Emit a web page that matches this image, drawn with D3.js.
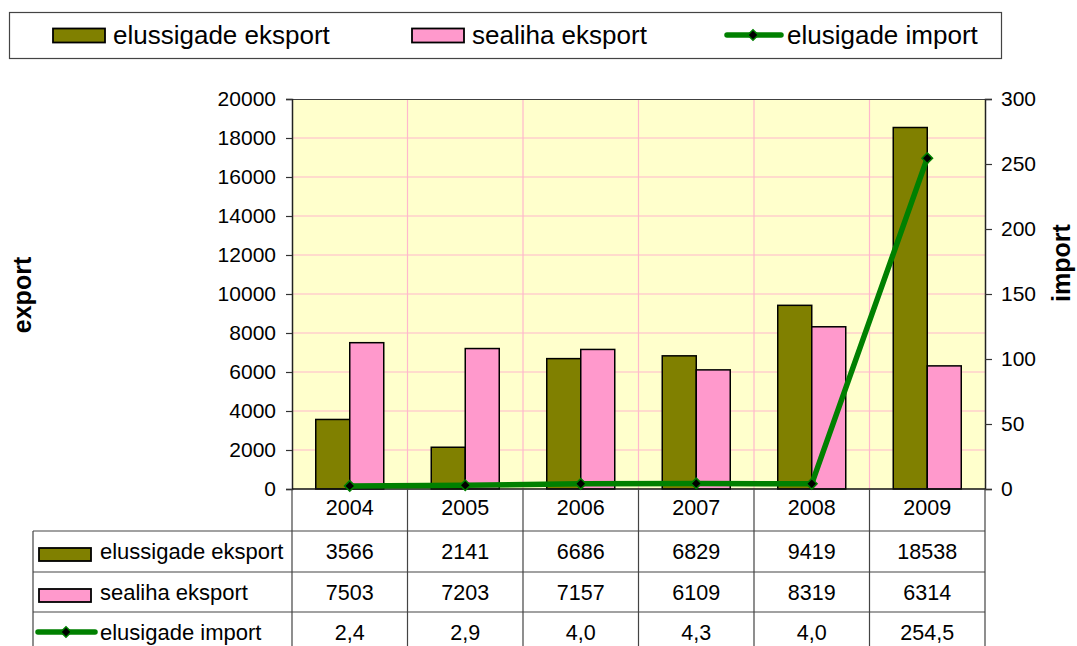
<!DOCTYPE html>
<html>
<head>
<meta charset="utf-8">
<script src="https://cdn.jsdelivr.net/npm/d3@7"></script>
<style>
  body { margin: 0; background: #fff; }
  svg text { font-family: "Liberation Sans", Arial, sans-serif; fill: #000; }
</style>
</head>
<body>
<svg id="chart" width="1077" height="646"></svg>
<script>
// --- data ---
const years = ["2004", "2005", "2006", "2007", "2008", "2009"];
const liquidExport = [3566, 2141, 6686, 6829, 9419, 18538];
const porkExport = [7503, 7203, 7157, 6109, 8319, 6314];
const liquidImport = [2.4, 2.9, 4.0, 4.3, 4.0, 254.5];
const leftTicks = [0, 2000, 4000, 6000, 8000, 10000, 12000, 14000, 16000, 18000, 20000];
const rightTicks = [0, 50, 100, 150, 200, 250, 300];

const names = ["elussigade eksport", "sealiha eksport", "elusigade import"];
const olive = "#808000", pink = "#FF99CC", green = "#008000";

const svg = d3.select("#chart");
const L = 292, R = 985, T = 99, B = 489;

const x = d3.scaleBand().domain(years).range([L, R]);
const bw = x.bandwidth();
const x1 = d3.scaleBand().domain([0, 1]).range([bw / 2 - 34, bw / 2 + 34]);
const yL = d3.scaleLinear().domain([0, 20000]).range([B, T]);
const yR = d3.scaleLinear().domain([0, 300]).range([B, T]);

// plot background
svg.append("rect").attr("x", L).attr("y", T).attr("width", R - L).attr("height", B - T)
  .attr("fill", "#FFFFCC");

// grid
const grid = svg.append("g").attr("stroke", "#FFB8CC").attr("stroke-width", 1.2);
leftTicks.slice(1, -1).forEach(v => {
  grid.append("line").attr("x1", L).attr("x2", R).attr("y1", yL(v)).attr("y2", yL(v));
});
years.slice(1).forEach(y => {
  grid.append("line").attr("x1", x(y)).attr("x2", x(y)).attr("y1", T).attr("y2", B);
});

// bars
const series = [liquidExport, porkExport];
const colors = [olive, pink];
series.forEach((vals, si) => {
  svg.append("g").selectAll("rect").data(vals).join("rect")
    .attr("x", (d, i) => x(years[i]) + x1(si))
    .attr("y", d => yL(d))
    .attr("width", x1.bandwidth())
    .attr("height", d => B - yL(d))
    .attr("fill", colors[si])
    .attr("stroke", "#000").attr("stroke-width", 1.5);
});

// top border
svg.append("line").attr("x1", L).attr("x2", R).attr("y1", T + 0.5).attr("y2", T + 0.5)
  .attr("stroke", "#404040").attr("stroke-width", 1.2);

// axes
const axL = svg.append("g").attr("transform", `translate(${L},0)`)
  .call(d3.axisLeft(yL).tickValues(leftTicks).tickSize(6).tickPadding(10).tickFormat(d3.format("d")));
const axR = svg.append("g").attr("transform", `translate(${R},0)`)
  .call(d3.axisRight(yR).tickValues(rightTicks).tickSize(7).tickPadding(9).tickFormat(d3.format("d")));
[axL, axR].forEach(a => {
  a.select(".domain").attr("stroke", "#222").attr("stroke-width", 1.5);
  a.selectAll(".tick line").attr("stroke", "#333").attr("stroke-width", 1.2);
  a.selectAll(".tick text").attr("font-size", 21).attr("font-family", "Liberation Sans, Arial, sans-serif");
});
svg.append("line").attr("x1", L).attr("x2", R).attr("y1", B).attr("y2", B)
  .attr("stroke", "#111").attr("stroke-width", 1.5);

// line series
const line = d3.line().x((d, i) => x(years[i]) + bw / 2).y(d => yR(d));
svg.append("path").datum(liquidImport).attr("d", line)
  .attr("fill", "none").attr("stroke", green).attr("stroke-width", 5.5).attr("stroke-linejoin", "round");
const diamond = d3.symbol().type(d3.symbolSquare).size(56);
svg.append("g").selectAll("path").data(liquidImport).join("path")
  .attr("d", diamond)
  .attr("transform", (d, i) => `translate(${x(years[i]) + bw / 2},${yR(d)}) rotate(45)`)
  .attr("fill", "#000").attr("stroke", green).attr("stroke-width", 1.5);

// axis titles
svg.append("text").attr("transform", "translate(31,295) rotate(-90)")
  .attr("text-anchor", "middle").attr("font-size", 25).attr("font-weight", "bold").text("export");
svg.append("text").attr("transform", "translate(1070,263) rotate(-90)")
  .attr("text-anchor", "middle").attr("font-size", 25).attr("font-weight", "bold").text("import");

// data table
const tbl = svg.append("g").attr("stroke", "#444").attr("stroke-width", 1.2);
const rowY = [531, 572, 612];
rowY.forEach(yy => tbl.append("line").attr("x1", 33).attr("x2", R).attr("y1", yy).attr("y2", yy));
tbl.append("line").attr("x1", 33).attr("x2", 33).attr("y1", 531).attr("y2", 646);
years.forEach(y => tbl.append("line").attr("x1", x(y)).attr("x2", x(y)).attr("y1", B).attr("y2", 646));
tbl.append("line").attr("x1", R).attr("x2", R).attr("y1", B).attr("y2", 646);

svg.append("g").selectAll("text").data(years).join("text")
  .attr("x", d => x(d) + bw / 2).attr("y", 515)
  .attr("text-anchor", "middle").attr("font-size", 21.5).text(d => d);

const fmtComma = d => d.toFixed(1).replace(".", ",");
const rows = [liquidExport.map(String), porkExport.map(String), liquidImport.map(fmtComma)];
const rowBase = [559, 600, 640];
rows.forEach((r, ri) => {
  svg.append("g").selectAll("text").data(r).join("text")
    .attr("x", (d, i) => x(years[i]) + bw / 2).attr("y", rowBase[ri])
    .attr("text-anchor", "middle").attr("font-size", 21.5).text(d => d);
  svg.append("text").attr("x", 100).attr("y", rowBase[ri]).attr("font-size", 22).text(names[ri]);
});
// table keys
[0, 1].forEach(i => {
  svg.append("rect").attr("x", 39).attr("y", 548 + i * 41).attr("width", 52).attr("height", 13)
    .attr("fill", colors[i]).attr("stroke", "#000").attr("stroke-width", 1.8);
});
svg.append("line").attr("x1", 38).attr("x2", 95).attr("y1", 632).attr("y2", 632)
  .attr("stroke", green).attr("stroke-width", 5.5).attr("stroke-linecap", "round");
svg.append("path").attr("d", diamond).attr("transform", "translate(66,632) rotate(45)")
  .attr("fill", "#000").attr("stroke", green).attr("stroke-width", 1.5);

// legend
svg.append("rect").attr("x", 9.5).attr("y", 12.5).attr("width", 992).attr("height", 46)
  .attr("fill", "#fff").attr("stroke", "#444").attr("stroke-width", 1.2);
const legX = [53, 412];
[0, 1].forEach(i => {
  svg.append("rect").attr("x", legX[i]).attr("y", 28.5).attr("width", 52).attr("height", 14)
    .attr("fill", colors[i]).attr("stroke", "#000").attr("stroke-width", 1.8);
  svg.append("text").attr("x", legX[i] + 60).attr("y", 44).attr("font-size", 26).text(names[i]);
});
svg.append("line").attr("x1", 727).attr("x2", 781).attr("y1", 35).attr("y2", 35)
  .attr("stroke", green).attr("stroke-width", 5.5).attr("stroke-linecap", "round");
svg.append("path").attr("d", diamond).attr("transform", "translate(753,35) rotate(45)")
  .attr("fill", "#000").attr("stroke", green).attr("stroke-width", 1.5);
svg.append("text").attr("x", 787).attr("y", 44).attr("font-size", 26).text(names[2]);
</script>
</body>
</html>
